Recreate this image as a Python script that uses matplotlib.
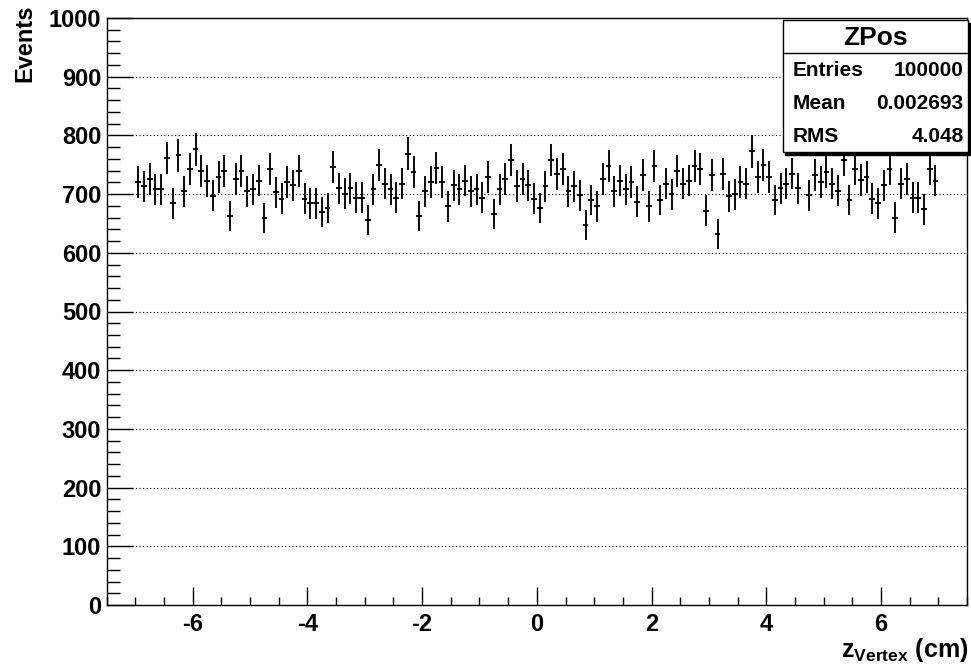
import numpy as np
import matplotlib
matplotlib.use("Agg")
import matplotlib.pyplot as plt
from matplotlib.patches import Rectangle

# bin contents, 140 bins of 0.1 cm from -7 to 7
counts = [
    721, 713, 726, 708, 708, 761, 684, 766, 705, 742,
    776, 739, 722, 697, 729, 739, 663, 726, 739, 705,
    708, 723, 659, 742, 703, 692, 721, 715, 739, 692,
    684, 684, 669, 676, 746, 710, 701, 710, 694, 694,
    656, 708, 750, 718, 708, 694, 718, 769, 737, 663,
    705, 721, 745, 721, 679, 715, 708, 723, 705, 708,
    694, 729, 666, 708, 726, 758, 714, 726, 715, 692,
    676, 713, 758, 734, 742, 705, 713, 698, 647, 690,
    679, 726, 748, 705, 723, 708, 721, 687, 732, 679,
    748, 690, 718, 700, 739, 718, 723, 748, 742, 672,
    732, 632, 734, 696, 700, 721, 718, 773, 729, 750,
    729, 690, 710, 718, 735, 710, 795, 698, 732, 721,
    737, 718, 706, 758, 690, 742, 724, 729, 692, 684,
    715, 742, 660, 718, 726, 694, 694, 674, 742, 723,
]
x_lo, x_hi, nbins = -7.0, 7.0, 140

stat_names = ["Entries", "Mean", "RMS"]
stat_values = ["100000", "0.002693", "4.048"]
hist_name = "ZPos"

plt.rcParams["font.family"] = ["Liberation Sans", "DejaVu Sans"]
plt.rcParams["font.weight"] = "bold"
plt.rcParams["axes.unicode_minus"] = False
plt.rcParams["mathtext.fontset"] = "custom"
plt.rcParams["mathtext.rm"] = "Liberation Sans:bold"
plt.rcParams["mathtext.bf"] = "Liberation Sans:bold"
plt.rcParams["mathtext.it"] = "Liberation Sans:bold"

edges = np.linspace(x_lo, x_hi, nbins + 1)
centers = 0.5 * (edges[:-1] + edges[1:])
y = np.array(counts, dtype=float)

fig = plt.figure(figsize=(9.71, 6.68), dpi=100)
ax = fig.add_axes([106.7 / 971, 63 / 668, (967 - 106.7) / 971, 587 / 668])

ax.errorbar(centers, y, yerr=np.sqrt(y), xerr=0.5 * (edges[1] - edges[0]),
            fmt="none", ecolor="black", elinewidth=1.35, capsize=0, zorder=3)

ax.set_xlim(-7.5, 7.5)
ax.set_ylim(0, 1000)
ax.set_xticks(np.arange(-6, 7, 2))
ax.set_xticks(np.arange(-7.5, 7.6, 0.5), minor=True)
ax.set_yticks(np.arange(0, 1001, 100))
ax.set_yticks(np.arange(0, 1001, 20), minor=True)

ax.tick_params(axis="y", which="major", direction="in", length=19, width=1,
               labelsize=17, pad=4)
ax.tick_params(axis="y", which="minor", direction="in", length=9.5, width=1)
ax.tick_params(axis="x", which="major", direction="in", length=13, width=1,
               labelsize=17, pad=6)
ax.tick_params(axis="x", which="minor", direction="in", length=6, width=1)
for lab in ax.get_xticklabels() + ax.get_yticklabels():
    lab.set_fontweight("bold")

ax.grid(axis="y", which="major", color="black", linestyle=(0, (1, 2.2)),
        linewidth=0.8)
for sp in ax.spines.values():
    sp.set_linewidth(1.0)

fig.text(25 / 971, 1 - 4 / 668, "Events", rotation=90, fontsize=17,
         fontweight="bold", ha="center", va="top")
fig.text(968 / 971, 1 - 650 / 668, r"$\mathbf{z_{Vertex}}$ (cm)", fontsize=18,
         fontweight="bold", ha="right", va="center")

# stats box
bx = fig.add_axes([783 / 971, (668 - 152) / 668, 185 / 971, 132 / 668])
bx.set_xlim(0, 1)
bx.set_ylim(0, 1)
bx.axis("off")
bx.add_patch(Rectangle((0.012, -0.02), 1, 1, transform=bx.transAxes,
                       facecolor="black", edgecolor="black", clip_on=False))
bx.add_patch(Rectangle((0, 0), 1, 1, transform=bx.transAxes,
                       facecolor="white", edgecolor="black", linewidth=1.0,
                       clip_on=False))
bx.plot([0, 1], [0.75, 0.75], color="black", linewidth=1.0)
bx.text(0.5, 0.865, hist_name, ha="center", va="center", fontsize=19,
        fontweight="bold")
for k, (nm, val) in enumerate(zip(stat_names, stat_values)):
    yy = 0.62 - 0.25 * k
    bx.text(0.05, yy, nm, ha="left", va="center", fontsize=15, fontweight="bold")
    bx.text(0.975, yy, val, ha="right", va="center", fontsize=15, fontweight="bold")

fig.savefig("out.png", dpi=100)
